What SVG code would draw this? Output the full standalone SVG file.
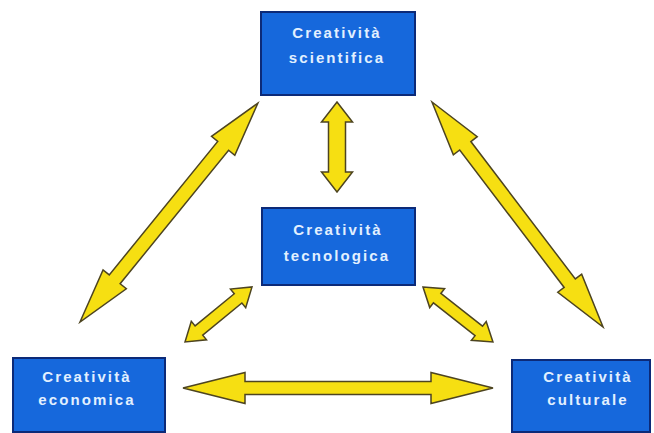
<svg xmlns="http://www.w3.org/2000/svg" width="654" height="433" viewBox="0 0 654 433">
<style>
.box{fill:#1668dc;stroke:#0c2a78;stroke-width:2}
.lbl{font-family:"Liberation Sans",Arial,sans-serif;font-weight:bold;font-size:15px;fill:#e2f0ff;text-anchor:middle;letter-spacing:2.1px}
.arr{fill:#f6df12;stroke:#4d4420;stroke-width:1.5;stroke-linejoin:miter}
</style>
<rect width="654" height="433" fill="#ffffff"/>
<g id="connectors">
<polygon class="arr" transform="translate(183,388)" points="0,0 62,-15.5 62,-6.5 248,-6.5 248,-15.5 310,0 248,15.5 248,6.5 62,6.5 62,15.5"/>
<polygon class="arr" transform="translate(337,102) rotate(90)" points="0,0 20,-15.5 20,-8.5 70,-8.5 70,-15.5 90,0 70,15.5 70,8.5 20,8.5 20,15.5"/>
<polygon class="arr" transform="translate(80,322) rotate(-50.9)" points="0,0 55,-15 55,-7 227,-7 227,-15 282,0 227,15 227,7 55,7 55,15"/>
<polygon class="arr" transform="translate(432,102) rotate(52.76)" points="0,0 55,-15 55,-7 227.6,-7 227.6,-15 282.6,0 227.6,15 227.6,7 55,7 55,15"/>
<polygon class="arr" transform="translate(185,342) rotate(-39.4)" points="0,0 18,-12 18,-6 68.7,-6 68.7,-12 86.7,0 68.7,12 68.7,6 18,6 18,12"/>
<polygon class="arr" transform="translate(423,287) rotate(38.2)" points="0,0 18,-12 18,-6 71,-6 71,-12 89,0 71,12 71,6 18,6 18,12"/>
</g>
<g id="scientifica">
<rect class="box" x="261" y="12" width="154" height="83"/>
<text class="lbl" x="337" y="38">Creatività</text>
<text class="lbl" x="337" y="63">scientifica</text>
</g>
<g id="tecnologica">
<rect class="box" x="262" y="208" width="153" height="77"/>
<text class="lbl" x="338" y="235">Creatività</text>
<text class="lbl" x="337" y="261">tecnologica</text>
</g>
<g id="economica">
<rect class="box" x="13" y="358" width="152" height="74"/>
<text class="lbl" x="87" y="382">Creatività</text>
<text class="lbl" x="87" y="405">economica</text>
</g>
<g id="culturale">
<rect class="box" x="512" y="360" width="138" height="72"/>
<text class="lbl" x="588" y="382">Creatività</text>
<text class="lbl" x="588" y="405">culturale</text>
</g>
</svg>
